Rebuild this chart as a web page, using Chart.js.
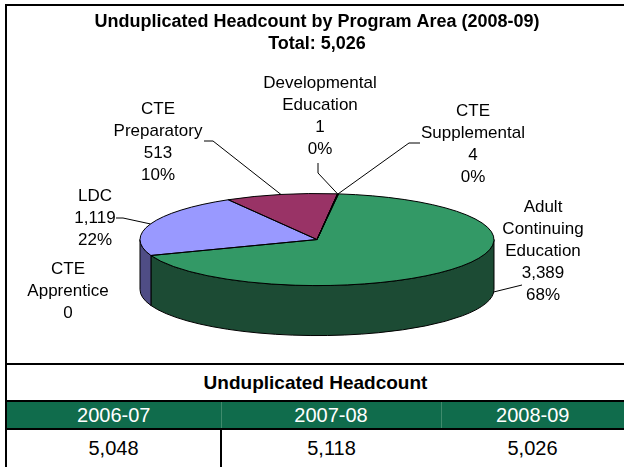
<!DOCTYPE html>
<html>
<head>
<meta charset="utf-8">
<script src="https://cdn.jsdelivr.net/npm/chart.js@4.4.1/dist/chart.umd.min.js"></script>
<style>
  body { margin: 0; background: #fff; font-family: "Liberation Sans", Arial, sans-serif; }
  #wrap { position: relative; width: 624px; height: 467px; overflow: hidden; }
  #frame { position: absolute; left: 5px; top: 4px; width: 800px; height: 600px;
           border-left: 2px solid #000; border-top: 2px solid #000; }
  #split { position: absolute; left: 5px; top: 363px; width: 800px; height: 2px; background: #000; }
  #chartBox { position: absolute; left: 0; top: 0; width: 624px; height: 363px; }
  #tbl { position: absolute; left: 7px; top: 365px; border-collapse: collapse; table-layout: fixed; width: 617px; }
  #tbl td { padding: 0; text-align: center; font-size: 20px; color: #000; }
  #tbl .head td { height: 35px; font-weight: bold; font-size: 19px; border-bottom: 2px solid #000; }
  #tbl .years td { height: 26px; background: #106c4c; color: #fff; border-bottom: 2px solid #000; }
  #tbl .years td + td { border-left: 1px solid #3f8b6d; }
  #tbl .vals td { height: 37px; }
  #tbl .vals td:nth-child(2) { border-left: 2px solid #000; }
</style>
</head>
<body>
<div id="wrap">
  <div id="frame"></div>
  <div id="split"></div>
  <div id="chartBox"><canvas id="pieChart" width="624" height="363"></canvas></div>
  <table id="tbl">
    <colgroup><col style="width:214px"><col style="width:220px"><col style="width:183px"></colgroup>
    <tr class="head"><td colspan="3" id="tblTitle"></td></tr>
    <tr class="years" id="yearRow"></tr>
    <tr class="vals" id="valRow"></tr>
  </table>
</div>
<script>
// datos del gráfico
const programs = ['Adult Continuing Education', 'CTE Apprentice', 'LDC', 'CTE Preparatory', 'Developmental Education', 'CTE Supplemental'];
const labelLines = [['Adult', 'Continuing', 'Education'], ['CTE', 'Apprentice'], ['LDC'], ['CTE', 'Preparatory'], ['Developmental', 'Education'], ['CTE', 'Supplemental']];
const headcount = [3389, 0, 1119, 513, 1, 4];
const years = ['2006-07', '2007-08', '2008-09'];
const yearTotals = [5048, 5118, 5026];

const topColors = ['#339966', '#ff8080', '#9999ff', '#993366', '#ffffcc', '#ccffff'];
const sideColors = ['#1c4b34', '#804040', '#4f4d85', '#4d1a33', '#808066', '#668080'];

// posición de las etiquetas (centro del texto, primera línea) y guías
const labelPos = [
    { x: 543, y: 207, lead: [[522, 285]], angle: 3, drop: 1 },
    { x: 68, y: 269, lead: null },
    { x: 95, y: 196, lead: [[116, 218], [123, 218]] },
    { x: 158, y: 109, lead: [[204, 141], [213, 141]] },
    { x: 320, y: 83, lead: [[318, 163], [318, 173]] },
    { x: 473, y: 111, lead: [[420, 143], [409, 143]] }
];

const tilt = 0.26;
const depth = 50;
const lineH = 22;

const total = headcount.reduce((a, b) => a + b, 0);
const fmt = v => v.toLocaleString('en-US');

// porcentajes redondeados que suman 100 (como Excel)
function roundedPercents(values) {
    const raw = values.map(v => v / total * 100);
    const floors = raw.map(Math.floor);
    let rest = 100 - floors.reduce((a, b) => a + b, 0);
    const order = raw.map((r, i) => [r - floors[i], i]).sort((a, b) => b[0] - a[0]);
    for (let k = 0; k < rest; k++) floors[order[k][1]]++;
    return floors;
}
const percents = roundedPercents(headcount);

// tabla
document.getElementById('tblTitle').textContent = 'Unduplicated Headcount';
years.forEach((y, i) => {
    const td = document.createElement('td');
    td.textContent = y;
    document.getElementById('yearRow').appendChild(td);
    const tv = document.createElement('td');
    tv.textContent = fmt(yearTotals[i]);
    document.getElementById('valRow').appendChild(tv);
});

function normSpan(s, e) {
    const k = Math.floor(s / (2 * Math.PI));
    return [s - 2 * Math.PI * k, e - 2 * Math.PI * k];
}

// efecto 3D: paredes, aplanado y contornos
const pie3d = {
    id: 'pie3d',
    beforeDatasetsDraw(chart) {
        const ctx = chart.ctx;
        const arcs = chart.getDatasetMeta(0).data;
        const { x: cx, y: cy, outerRadius: rx } = arcs[0];
        const ry = rx * tilt;
        ctx.save();
        ctx.strokeStyle = '#000';
        ctx.lineWidth = 1;
        arcs.forEach((arc, i) => {
            const [s, e] = normSpan(arc.startAngle, arc.endAngle);
            [[0, Math.PI], [2 * Math.PI, 3 * Math.PI]].forEach(([lo, hi]) => {
                const a = Math.max(s, lo), b = Math.min(e, hi);
                if (b - a <= 0.0005) return;
                ctx.beginPath();
                ctx.ellipse(cx, cy, rx, ry, 0, a, b);
                ctx.lineTo(cx + rx * Math.cos(b), cy + ry * Math.sin(b) + depth);
                ctx.ellipse(cx, cy + depth, rx, ry, 0, b, a, true);
                ctx.closePath();
                ctx.fillStyle = sideColors[i];
                ctx.fill();
                ctx.stroke();
            });
        });
        ctx.restore();
        ctx.save();
        ctx.translate(cx, cy);
        ctx.scale(1, tilt);
        ctx.translate(-cx, -cy);
    },
    afterDatasetsDraw(chart) {
        const ctx = chart.ctx;
        ctx.restore();
        const arcs = chart.getDatasetMeta(0).data;
        const { x: cx, y: cy, outerRadius: rx } = arcs[0];
        const ry = rx * tilt;
        ctx.save();
        ctx.strokeStyle = '#000';
        ctx.lineWidth = 1;
        arcs.forEach(arc => {
            if (arc.endAngle - arc.startAngle < 0.0005) return;
            ctx.beginPath();
            ctx.moveTo(cx, cy);
            ctx.ellipse(cx, cy, rx, ry, 0, arc.startAngle, arc.endAngle);
            ctx.closePath();
            ctx.stroke();
        });

        // etiquetas
        ctx.fillStyle = '#000';
        ctx.font = '17px "Liberation Sans", Arial, sans-serif';
        ctx.textAlign = 'center';
        ctx.textBaseline = 'middle';
        arcs.forEach((arc, i) => {
            const p = labelPos[i];
            const lines = labelLines[i].concat([fmt(headcount[i])]);
            if (headcount[i] > 0) lines.push(percents[i] + '%');
            lines.forEach((t, k) => ctx.fillText(t, p.x, p.y + k * lineH));
            if (!p.lead) return;
            const mid = p.angle !== undefined ? p.angle * Math.PI / 180 : (arc.startAngle + arc.endAngle) / 2;
            const ax = cx + rx * Math.cos(mid);
            const ay = cy + ry * Math.sin(mid) + (p.drop || 0) * depth;
            ctx.beginPath();
            ctx.moveTo(p.lead[0][0], p.lead[0][1]);
            p.lead.slice(1).forEach(q => ctx.lineTo(q[0], q[1]));
            ctx.lineTo(ax, ay);
            ctx.stroke();
        });
        ctx.restore();
    }
};

Chart.defaults.font.family = '"Liberation Sans", Arial, sans-serif';

new Chart(document.getElementById('pieChart'), {
    type: 'pie',
    data: {
        labels: programs,
        datasets: [{
            data: headcount,
            backgroundColor: topColors,
            borderWidth: 0,
            radius: 177,
            clip: false
        }]
    },
    options: {
        responsive: false,
        animation: false,
        events: [],
        rotation: 7,
        layout: { padding: { left: 10, right: 0, top: 0, bottom: 0 } },
        plugins: {
            legend: { display: false },
            tooltip: { enabled: false },
            title: {
                display: true,
                text: ['Unduplicated Headcount by Program Area (2008-09)', 'Total: ' + fmt(total)],
                color: '#000',
                font: { size: 18, weight: 'bold', lineHeight: 1.17 },
                padding: { top: 12, bottom: 62 }
            }
        }
    },
    plugins: [pie3d]
});
</script>
</body>
</html>
